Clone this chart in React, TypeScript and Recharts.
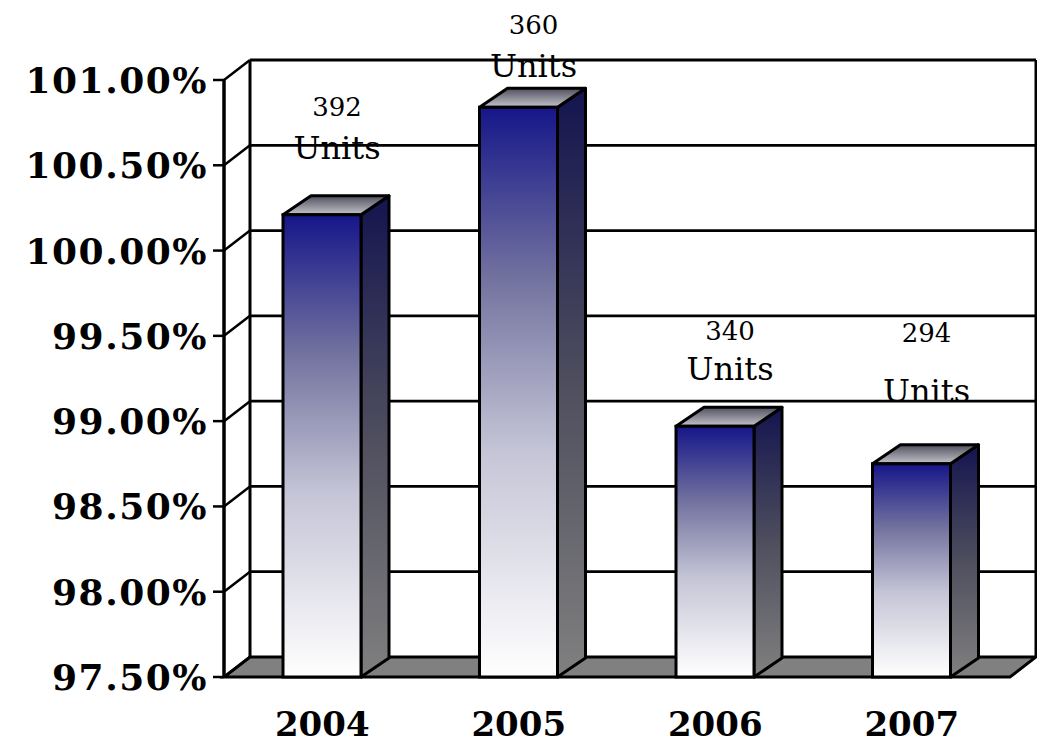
import React from 'react';
import { BarChart, Bar, XAxis, YAxis, CartesianGrid, LabelList } from 'recharts';

const years = ['2004', '2005', '2006', '2007'];
const percentValues = [100.21, 100.84, 98.97, 98.75];
const unitCounts = [392, 360, 340, 294];
const yTicks = [97.5, 98, 98.5, 99, 99.5, 100, 100.5, 101];

const data = years.map((year, i) => ({ year, value: percentValues[i], units: unitCounts[i] }));

const FONT = '"DejaVu Serif", serif';
const DX = 28;
const DY = -19;
const WX = 26;
const WY = -20;
const LABEL_SHIFT = 15;
const numBaseOffsets = [-99, -73, -86, -122];
const unitBaseOffsets = [-56, -30, -46, -62];

const GridLine = (props: any) => {
  const { x1, x2, y1, y, height } = props;
  const bottom = y + height;
  const isBottom = Math.abs(y1 - bottom) < 1;
  const isTop = Math.abs(y1 - y) < 1;
  return (
    <g>
      {isBottom && (
        <polygon
          points={`${x1},${y1} ${x2},${y1} ${x2 + WX},${y1 + WY} ${x1 + WX},${y1 + WY}`}
          fill="#808080"
          stroke="#000"
          strokeWidth={3}
        />
      )}
      {isTop && (
        <g>
          <line x1={x1 + WX} y1={y1 + WY} x2={x1 + WX} y2={bottom + WY} stroke="#000" strokeWidth={3} />
          <line x1={x2 + WX} y1={y1 + WY} x2={x2 + WX} y2={bottom + WY} stroke="#000" strokeWidth={3} />
        </g>
      )}
      <line x1={x1} y1={y1} x2={x1 + WX} y2={y1 + WY} stroke="#000" strokeWidth={2.5} />
      {!isBottom && (
        <line x1={x1 + WX} y1={y1 + WY} x2={x2 + WX} y2={y1 + WY} stroke="#000" strokeWidth={2.8} />
      )}
    </g>
  );
};

const Bar3D = (props: any) => {
  const { x, y, width, height } = props;
  const sw = 3;
  const side = `${x + width},${y} ${x + width + DX},${y + DY} ${x + width + DX},${y + height + DY} ${x + width},${y + height}`;
  const top = `${x},${y} ${x + DX},${y + DY} ${x + width + DX},${y + DY} ${x + width},${y}`;
  return (
    <g>
      <polygon points={side} fill="url(#sideGrad)" stroke="#000" strokeWidth={sw} strokeLinejoin="round" />
      <polygon points={top} fill="url(#topGrad)" stroke="#000" strokeWidth={sw} strokeLinejoin="round" />
      <rect x={x} y={y} width={width} height={height} fill="url(#frontGrad)" stroke="#000" strokeWidth={sw} />
    </g>
  );
};

const UnitsLabel = (props: any) => {
  const { x, y, width, value, index } = props;
  const cx = x + width / 2 + LABEL_SHIFT;
  return (
    <g>
      <text x={cx} y={y + numBaseOffsets[index]} textAnchor="middle" fontFamily={FONT} fontSize={26} fill="#000">
        {value}
      </text>
      <text x={cx} y={y + unitBaseOffsets[index]} textAnchor="middle" fontFamily={FONT} fontSize={32} fill="#000">
        Units
      </text>
    </g>
  );
};

const XTick = (props: any) => {
  const { x, payload } = props;
  return (
    <text x={x} y={736} textAnchor="middle" fontFamily={FONT} fontWeight="bold" fontSize={34} fill="#000">
      {payload.value}
    </text>
  );
};

const YTick = (props: any) => {
  const { x, y, payload } = props;
  return (
    <text
      x={x}
      y={y}
      dy="0.36em"
      textAnchor="end"
      fontFamily={FONT}
      fontWeight="bold"
      fontSize={36}
      letterSpacing={1.5}
      fill="#000"
    >
      {`${Number(payload.value).toFixed(2)}%`}
    </text>
  );
};

export default function App() {
  return (
    <div style={{ position: 'absolute', left: 0, top: 0, width: 1037, height: 743, background: '#fff' }}>
      <BarChart
        width={1037}
        height={743}
        data={data}
        margin={{ top: 80, right: 27, bottom: 0, left: 0 }}
        barSize={78}
      >
        <defs>
          <linearGradient id="frontGrad" x1="0" y1="0" x2="0" y2="1">
            <stop offset="0" stopColor="#16168a" />
            <stop offset="0.3" stopColor="#72729f" />
            <stop offset="0.6" stopColor="#c4c4d6" />
            <stop offset="1" stopColor="#ffffff" />
          </linearGradient>
          <linearGradient id="sideGrad" x1="0" y1="0" x2="0" y2="1">
            <stop offset="0" stopColor="#141450" />
            <stop offset="0.5" stopColor="#4e4e5e" />
            <stop offset="1" stopColor="#808080" />
          </linearGradient>
          <linearGradient id="topGrad" x1="0" y1="0" x2="0" y2="1">
            <stop offset="0" stopColor="#50505e" />
            <stop offset="1" stopColor="#c4c4cc" />
          </linearGradient>
        </defs>
        <CartesianGrid vertical={false} horizontal={GridLine} />
        <XAxis dataKey="year" height={66} axisLine={false} tickLine={false} tick={XTick} interval={0} />
        <YAxis
          type="number"
          domain={[97.5, 101]}
          ticks={yTicks}
          width={224}
          axisLine={{ stroke: '#000', strokeWidth: 3.5 }}
          tickLine={{ stroke: '#000', strokeWidth: 2.5 }}
          tickSize={11}
          tickMargin={5}
          tick={YTick}
          interval={0}
        />
        <Bar dataKey="value" shape={Bar3D} isAnimationActive={false}>
          <LabelList dataKey="units" content={UnitsLabel} />
        </Bar>
      </BarChart>
    </div>
  );
}
